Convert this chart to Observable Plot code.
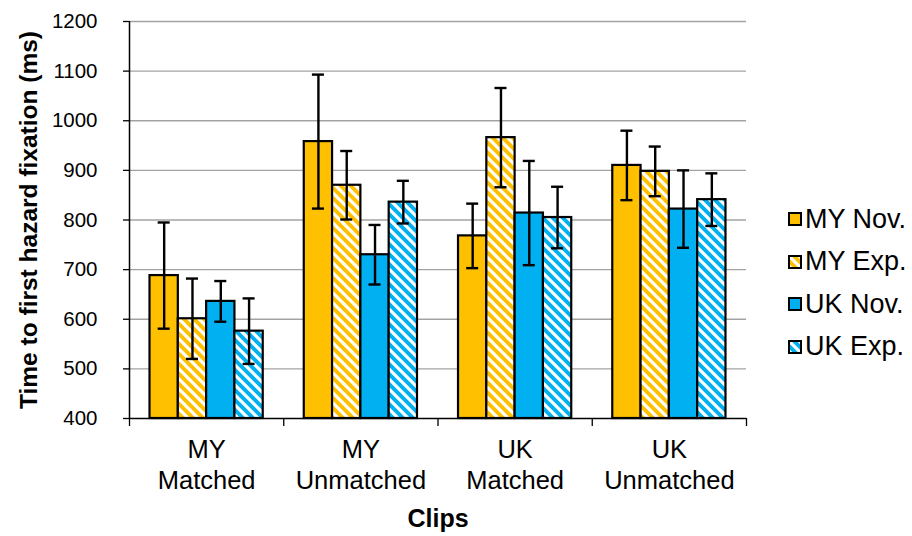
<!DOCTYPE html>
<html>
<head>
<meta charset="utf-8">
<script src="https://cdn.jsdelivr.net/npm/d3@7"></script>
<script src="https://cdn.jsdelivr.net/npm/@observablehq/plot@0.6"></script>
<style>
html, body { margin: 0; padding: 0; background: #fff; }
#wrap { position: relative; width: 912px; height: 536px; }
#legend { position: absolute; left: 0; top: 0; font-family: "Liberation Sans", Arial, sans-serif; color: #000; }
.item { position: absolute; display: flex; align-items: center; white-space: nowrap; }
.item svg { display: block; }
</style>
</head>
<body>
<div id="wrap"><div id="legend"></div></div>
<script>
// ---- data ----
const clips = ["MY\nMatched", "MY\nUnmatched", "UK\nMatched", "UK\nUnmatched"];
const series = ["MY Nov.", "MY Exp.", "UK Nov.", "UK Exp."];
const myNovMean = [688, 958, 768, 910];
const myExpMean = [601, 870, 966, 898];
const ukNovMean = [636, 730, 814, 822];
const ukExpMean = [576, 836, 805, 841];
const myNovErr = [107, 135, 65, 70];
const myExpErr = [81, 69, 100, 50];
const ukNovErr = [41, 60, 105, 78];
const ukExpErr = [66, 43, 62, 53];
const yTicks = [400, 500, 600, 700, 800, 900, 1000, 1100, 1200];
const yTitle = "Time to first hazard fixation (ms)";
const xTitle = "Clips";

// ---- styling ----
const ORANGE = "#FFC000", BLUE = "#00B0F0";
const fills = ["url(#solidOrange)", "url(#hatchOrange)", "url(#solidBlue)", "url(#hatchBlue)"];
const font = "'Liberation Sans', Arial, sans-serif";

const means = [myNovMean, myExpMean, ukNovMean, ukExpMean];
const errs = [myNovErr, myExpErr, ukNovErr, ukExpErr];

// grouped layout in the linear x scale (one unit per clip)
const groupFrac = 0.734;
const barW = groupFrac / series.length;
const g0 = (1 - groupFrac) / 2;
const capHalf = 0.039;

const data = [];
series.forEach((s, si) => {
  clips.forEach((c, ci) => {
    const x1 = ci + g0 + si * barW;
    data.push({series: s, si, clip: c, ci, x1, x2: x1 + barW, xc: x1 + barW / 2,
               mean: means[si][ci], lo: means[si][ci] - errs[si][ci], hi: means[si][ci] + errs[si][ci]});
  });
});

const W = 912, H = 536;
const mL = 129, mR = 166, mT = 21, mB = 118;

const barMarks = series.map((s, si) =>
  Plot.rectY(data.filter(d => d.si === si), {
    x1: "x1", x2: "x2", y1: yTicks[0], y2: "mean",
    fill: fills[si], stroke: "#000", strokeWidth: 2.2
  })
);

const chart = Plot.plot({
  width: W, height: H,
  marginLeft: mL, marginRight: mR, marginTop: mT, marginBottom: mB,
  style: {fontFamily: font, background: "#fff", color: "#000", overflow: "visible"},
  x: {domain: [0, clips.length], axis: null},
  y: {domain: [yTicks[0], yTicks[yTicks.length - 1]], axis: null},
  marks: [
    Plot.gridY(yTicks.slice(1), {stroke: "#a3a3a3", strokeOpacity: 1, strokeWidth: 1.3}),
    ...barMarks,
    Plot.ruleX(data, {x: "xc", y1: "lo", y2: "hi", stroke: "#000", strokeWidth: 2.4}),
    Plot.ruleY(data, {y: "lo", x1: d => d.xc - capHalf, x2: d => d.xc + capHalf, stroke: "#000", strokeWidth: 2.4}),
    Plot.ruleY(data, {y: "hi", x1: d => d.xc - capHalf, x2: d => d.xc + capHalf, stroke: "#000", strokeWidth: 2.4}),
    Plot.ruleY([yTicks[0]], {stroke: "#000", strokeWidth: 1.5}),
    Plot.ruleX([0], {stroke: "#000", strokeWidth: 1.5}),
    Plot.axisY({ticks: yTicks, tickSize: 6, tickPadding: 26, fontSize: 20.5, tickFormat: d => String(d),
      label: null, stroke: "#000", strokeWidth: 1.3}),
    Plot.axisX({ticks: d3.range(clips.length + 1), tickSize: 8, tickFormat: () => "", label: null, strokeWidth: 1.3}),
    Plot.text(clips.map((c, i) => ({c, x: i + 0.5})), {
      x: "x", text: "c", frameAnchor: "bottom", lineAnchor: "top", dy: 17,
      fontSize: 25.5, lineHeight: 31 / 25.5, fill: "#000"
    }),
    Plot.text([yTitle], {text: d => d, frameAnchor: "left", dx: -100, rotate: -90,
      textAnchor: "middle", lineAnchor: "middle",
      fontSize: 24.5, fontWeight: "bold", fill: "#000"}),
    Plot.text([xTitle], {text: d => d, frameAnchor: "bottom", dy: 100,
      textAnchor: "middle", lineAnchor: "middle",
      fontSize: 25, fontWeight: "bold", fill: "#000"})
  ]
});

// pattern definitions
function addDefs(svgSel) {
  const defs = svgSel.insert("defs", ":first-child");
  const mk = (id, color, hatch) => {
    const p = defs.append("pattern").attr("id", id).attr("patternUnits", "userSpaceOnUse")
      .attr("width", 10).attr("height", 10);
    p.append("rect").attr("width", 10).attr("height", 10).attr("fill", color);
    if (hatch) {
      p.append("path").attr("d", "M-5,-5L15,15M-5,5L5,15M5,-5L15,5")
        .attr("stroke", "#fff").attr("stroke-width", 3.2).attr("fill", "none");
    }
  };
  mk("solidOrange", ORANGE, false);
  mk("hatchOrange", ORANGE, true);
  mk("solidBlue", BLUE, false);
  mk("hatchBlue", BLUE, true);
}
addDefs(d3.select(chart));
document.getElementById("wrap").prepend(chart);

// legend
const legend = d3.select("#legend");
const rowCenters = [219, 261.5, 304, 346.5];
series.forEach((s, si) => {
  const item = legend.append("div").attr("class", "item")
    .style("left", "788px").style("top", (rowCenters[si] - 16) + "px").style("height", "32px");
  const sv = item.append("svg").attr("width", 14).attr("height", 14);
  sv.append("rect").attr("x", 1).attr("y", 1).attr("width", 12).attr("height", 12)
    .attr("fill", fills[si]).attr("stroke", "#000").attr("stroke-width", 2);
  item.append("span").style("font-size", "27px").style("margin-left", "3px").text(s);
});
</script>
</body>
</html>
